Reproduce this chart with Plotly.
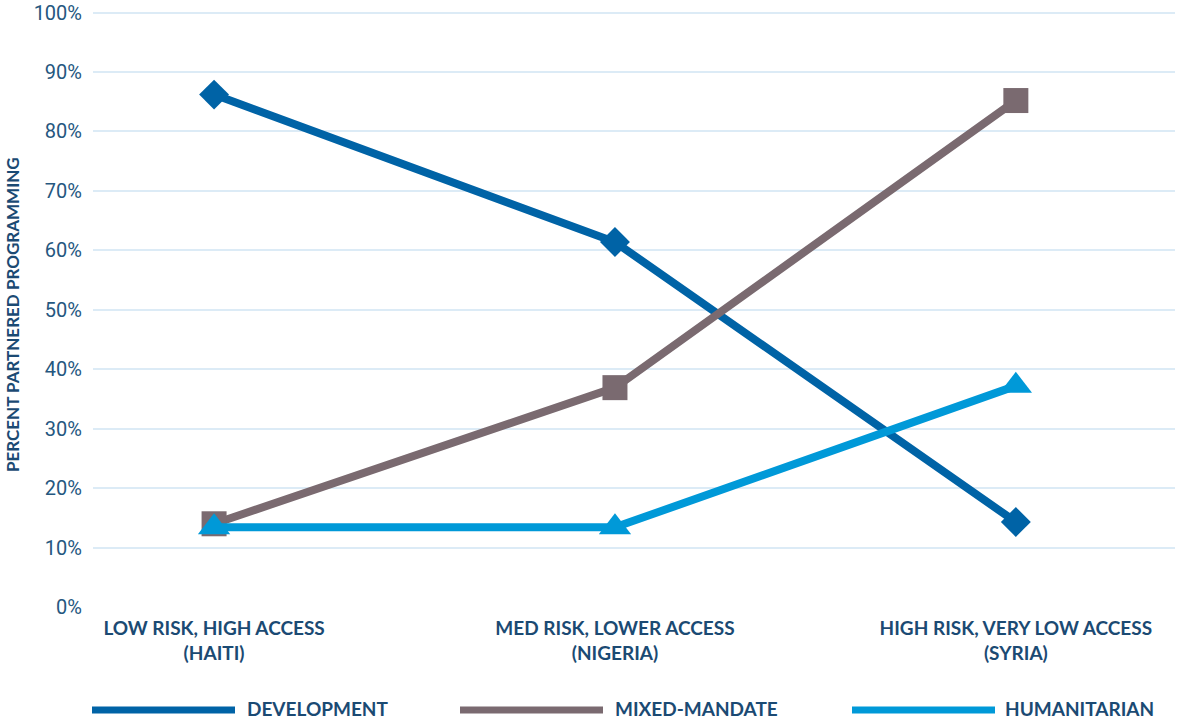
import plotly.graph_objects as go

categories = ["LOW RISK, HIGH ACCESS<br>(HAITI)",
              "MED RISK, LOWER ACCESS<br>(NIGERIA)",
              "HIGH RISK, VERY LOW ACCESS<br>(SYRIA)"]
development = [86.2, 61.4, 14.3]
mixed_mandate = [14.0, 36.9, 85.2]
humanitarian = [13.4, 13.4, 37.2]
y_ticks = [0, 10, 20, 30, 40, 50, 60, 70, 80, 90, 100]
y_tick_labels = [f"{v}%" for v in y_ticks]

series = [
    ("DEVELOPMENT", development, "#0063a6", "diamond", 23),
    ("MIXED-MANDATE", mixed_mandate, "#7a6a70", "square", 25),
    ("HUMANITARIAN", humanitarian, "#0099d8", "triangle-up", 28),
]

Y_MAX = 100.6
W, H = 1177, 719
L, R, B = 93, 2, 112
# plot bottom (0%) at y=607, 100% at y=13
unit = (607 - 13) / 100.0
T = int(round(607 - unit * Y_MAX))
pw = W - L - R
ph = H - T - B
label_color = "#1b4a73"


def px(x):
    return (x - L) / pw


def py(y):
    return (T + ph - y) / ph


fig = go.Figure()
for name, vals, color, sym, size in series:
    fig.add_trace(go.Scatter(
        x=categories, y=vals, name=name, mode="lines+markers",
        line=dict(color=color, width=8),
        marker=dict(symbol=sym, size=size, color=color),
        showlegend=False, cliponaxis=False,
    ))

fig.update_layout(
    width=W, height=H,
    margin=dict(l=L, r=R, t=T, b=B, autoexpand=False),
    plot_bgcolor="white", paper_bgcolor="white",
    showlegend=False,
    xaxis=dict(
        type="category", range=[-0.302, 2.397],
        showgrid=False, zeroline=False, showline=False,
        tickfont=dict(family="Lato, Open Sans, sans-serif", size=19,
                      color=label_color, weight="bold"),
        ticks="outside", ticklen=4, tickcolor="rgba(0,0,0,0)",
    ),
    yaxis=dict(
        range=[0, Y_MAX], tickvals=y_ticks, ticktext=y_tick_labels,
        showgrid=True, gridcolor="#dcebf6", gridwidth=2,
        zeroline=False, showline=False,
        tickfont=dict(family="Roboto, sans-serif", size=20, color="#25577f"),
        ticklabelstandoff=10, ticklabeloverflow="allow",
    ),
)

fig.add_annotation(
    text="PERCENT PARTNERED PROGRAMMING", textangle=-90,
    xref="paper", yref="paper", x=px(12), y=py(315),
    xanchor="center", yanchor="middle", showarrow=False,
    font=dict(family="Lato, Open Sans, sans-serif", size=17,
              color=label_color, weight="bold"),
)

legend_line_x = [(92, 235), (460, 603), (852, 995)]
legend_text_x = [245, 613, 1003]
for (name, vals, color, sym, size), (x0, x1), tx in zip(series, legend_line_x, legend_text_x):
    fig.add_shape(type="line", xref="paper", yref="paper",
                  x0=px(x0), x1=px(x1), y0=py(710), y1=py(710),
                  line=dict(color=color, width=7))
    fig.add_annotation(text=name, xref="paper", yref="paper",
                       x=px(tx), y=py(708), xanchor="left", yanchor="middle",
                       showarrow=False,
                       font=dict(family="Lato, Open Sans, sans-serif", size=19,
                                 color=label_color, weight="bold"))

fig.write_html("out.html",
               config={"displayModeBar": False},
               post_script="document.body.style.margin='0';document.body.style.overflow='hidden';")
